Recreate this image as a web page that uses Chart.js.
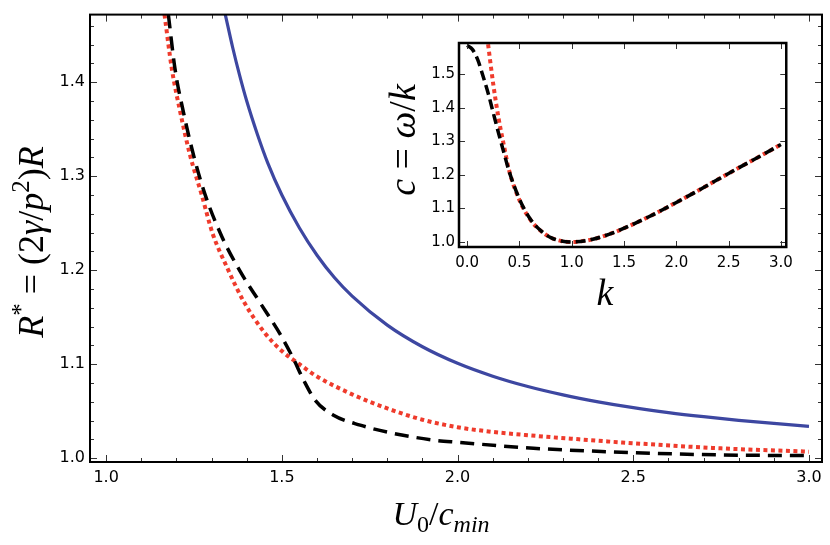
<!DOCTYPE html>
<html>
<head>
<meta charset="utf-8">
<script src="https://cdn.jsdelivr.net/npm/chart.js@4.4.1/dist/chart.umd.min.js"></script>
<style>
  html, body { margin: 0; padding: 0; background: #fff; }
  #wrap { position: relative; width: 830px; height: 545px; }
  #main { position: absolute; left: 0; top: 0; }
  #inset { position: absolute; left: 380px; top: 30px; }
</style>
</head>
<body>
<div id="wrap">
  <canvas id="main" width="830" height="545" style="width:830px;height:545px"></canvas>
  <canvas id="inset" width="420" height="290" style="width:420px;height:290px"></canvas>
</div>
<script>
// main panel: R* against U0/cmin
const blueX = [1.339, 1.36, 1.38, 1.40, 1.43, 1.46, 1.5, 1.55, 1.6, 1.65, 1.7, 1.8, 1.9, 2.0, 2.1, 2.2, 2.3, 2.4, 2.5, 2.6, 2.7, 2.8, 2.9, 3.0]
const blueY = [1.472, 1.437, 1.407, 1.380, 1.345, 1.314, 1.280, 1.245, 1.216, 1.192, 1.1725, 1.1416, 1.1186, 1.101, 1.0873, 1.0763, 1.0674, 1.060, 1.0538, 1.0486, 1.0442, 1.0403, 1.037, 1.034]

const redX = [1.166, 1.187, 1.211, 1.239, 1.272, 1.303, 1.344, 1.391, 1.45, 1.5, 1.55, 1.6, 1.7, 1.8, 1.9, 2.0, 2.1, 2.2, 2.35, 2.5, 2.75, 3.0]
const redY = [1.472, 1.414, 1.368, 1.322, 1.280, 1.239, 1.203, 1.167, 1.134, 1.114, 1.100, 1.087, 1.068, 1.053, 1.041, 1.033, 1.028, 1.0245, 1.020, 1.016, 1.0105, 1.007]

const blackX = [1.177, 1.196, 1.220, 1.249, 1.282, 1.329, 1.381, 1.438, 1.495, 1.533, 1.562, 1.595, 1.647, 1.723, 1.818, 1.932, 2.0, 2.216, 2.5, 2.75, 3.0]
const blackY = [1.472, 1.414, 1.368, 1.322, 1.280, 1.236, 1.199, 1.1655, 1.132, 1.1057, 1.083, 1.0616, 1.0458, 1.0352, 1.0264, 1.0193, 1.017, 1.0106, 1.006, 1.0035, 1.0028]

const mainXTicks = [1.0, 1.5, 2.0, 2.5, 3.0]
const mainYTicks = [1.0, 1.1, 1.2, 1.3, 1.4]

// inset: c = omega/k against k
const insetRedK = [0.2, 0.25, 0.3, 0.35, 0.4, 0.5, 0.6, 0.7, 0.8, 0.9, 1.0, 1.2, 1.4, 1.6, 1.8, 2.0, 2.2, 2.4, 2.6, 2.8, 3.0]
const insetRedC = [1.59, 1.47, 1.37, 1.29, 1.215, 1.125, 1.068, 1.034, 1.013, 1.003, 1.0, 1.008, 1.028, 1.055, 1.085, 1.118, 1.152, 1.187, 1.222, 1.256, 1.291]

const insetBlackK = [0.0, 0.05, 0.1, 0.15, 0.2, 0.25, 0.3, 0.35, 0.4, 0.5, 0.6, 0.7, 0.8, 0.9, 1.0, 1.2, 1.4, 1.6, 1.8, 2.0, 2.2, 2.4, 2.6, 2.8, 3.0]
const insetBlackC = [1.587, 1.575, 1.545, 1.497, 1.445, 1.385, 1.325, 1.268, 1.212, 1.128, 1.070, 1.035, 1.013, 1.003, 1.0, 1.008, 1.028, 1.055, 1.085, 1.118, 1.152, 1.187, 1.222, 1.256, 1.291]

const insetXTicks = [0.0, 0.5, 1.0, 1.5, 2.0, 2.5, 3.0]
const insetYTicks = [1.0, 1.1, 1.2, 1.3, 1.4, 1.5]

const BLUE = '#3d47a1'
const RED = '#ef3b2c'
const BLACK = '#000000'
const TICK_FONT = "'DejaVu Sans', sans-serif"
const MATH_FONT = "'Liberation Serif', 'DejaVu Serif', serif"

function pts(xs, ys) {
  return xs.map((x, i) => ({ x: x, y: ys[i] }))
}

function line(data, color, width, dash) {
  return {
    data: data,
    showLine: true,
    borderColor: color,
    borderWidth: width,
    borderDash: dash,
    borderCapStyle: 'butt',
    pointRadius: 0,
    cubicInterpolationMode: 'monotone',
    clip: 0
  }
}

// frame on four sides plus inward ticks, matplotlib style
function boxTicks(opt) {
  return {
    id: 'boxTicks',
    afterDatasetsDraw(chart) {
      const ctx = chart.ctx
      const a = chart.chartArea
      const sx = chart.scales.x, sy = chart.scales.y
      ctx.save()
      ctx.strokeStyle = '#333'
      ctx.lineWidth = 1
      ctx.beginPath()
      const markX = (v, len) => {
        const p = Math.round(sx.getPixelForValue(v)) + 0.5
        if (p < a.left + 1 || p > a.right - 1) return
        ctx.moveTo(p, a.bottom); ctx.lineTo(p, a.bottom - len)
        ctx.moveTo(p, a.top); ctx.lineTo(p, a.top + len)
      }
      const markY = (v, len) => {
        const p = Math.round(sy.getPixelForValue(v)) + 0.5
        if (p < a.top + 1 || p > a.bottom - 1) return
        ctx.moveTo(a.left, p); ctx.lineTo(a.left + len, p)
        ctx.moveTo(a.right, p); ctx.lineTo(a.right - len, p)
      }
      sx.ticks.forEach(t => markX(t.value, opt.major))
      sy.ticks.forEach(t => markY(t.value, opt.major))
      if (opt.minorX) {
        for (let i = Math.ceil(sx.min / opt.minorX - 1e-9); i * opt.minorX <= sx.max; i++) markX(i * opt.minorX, opt.minor)
      }
      if (opt.minorY) {
        for (let i = Math.ceil(sy.min / opt.minorY - 1e-9); i * opt.minorY <= sy.max; i++) markY(i * opt.minorY, opt.minor)
      }
      ctx.stroke()
      ctx.strokeStyle = '#000'
      ctx.lineWidth = opt.frame
      ctx.strokeRect(a.left, a.top, a.right - a.left, a.bottom - a.top)
      ctx.restore()
    }
  }
}

// math-like axis titles: [text, style], style i = italic, r = upright, sup/sub = small italic, rsup = small upright
function drawMath(ctx, parts, x, y, size, rotate) {
  const fontOf = s => {
    const small = (s === 'sup' || s === 'sub' || s === 'rsup' || s === 'rsub')
    const italic = (s === 'i' || s === 'sup' || s === 'sub')
    return (italic ? 'italic ' : '') + Math.round(small ? size * 0.7 : size) + 'px ' + MATH_FONT
  }
  ctx.save()
  ctx.translate(x, y)
  if (rotate) ctx.rotate(-Math.PI / 2)
  ctx.fillStyle = '#000'
  ctx.textBaseline = 'alphabetic'
  ctx.textAlign = 'left'
  let w = 0
  parts.forEach(p => { ctx.font = fontOf(p[1]); w += ctx.measureText(p[0]).width })
  let cx = -w / 2
  parts.forEach(p => {
    ctx.font = fontOf(p[1])
    let dy = 0
    if (p[1] === 'sup' || p[1] === 'rsup') dy = -size * 0.38
    if (p[1] === 'sub' || p[1] === 'rsub') dy = size * 0.2
    ctx.fillText(p[0], cx, dy)
    cx += ctx.measureText(p[0]).width
  })
  ctx.restore()
}

function titles(list) {
  return {
    id: 'mathTitles',
    afterDraw(chart) {
      list.forEach(t => drawMath(chart.ctx, t.parts, t.x, t.y, t.size, t.rotate))
    }
  }
}

function axis(min, max, tickVals, font, pad, fit) {
  return {
    type: 'linear',
    min: min,
    max: max,
    afterBuildTicks: s => { s.ticks = tickVals.map(v => ({ value: v })) },
    afterFit: fit,
    grid: { display: false, drawTicks: false },
    border: { display: false },
    ticks: {
      color: '#000',
      font: font,
      padding: pad,
      autoSkip: false,
      maxRotation: 0,
      callback: v => v.toFixed(1)
    }
  }
}

Chart.defaults.animation = false

const mainChart = new Chart(document.getElementById('main'), {
  type: 'scatter',
  data: {
    datasets: [
      line(pts(blueX, blueY), BLUE, 3.2, []),
      line(pts(blackX, blackY), BLACK, 3.5, [14, 8]),
      line(pts(redX, redY), RED, 4, [4, 3.5])
    ]
  },
  options: {
    responsive: false,
    devicePixelRatio: 1,
    layout: { padding: { top: 11, right: 8, left: 0, bottom: 0 } },
    plugins: { legend: { display: false }, tooltip: { enabled: false } },
    scales: {
      x: axis(0.954, 3.037, mainXTicks, { family: TICK_FONT, size: 16 }, 6, s => { s.height = 83 }),
      y: axis(0.996, 1.472, mainYTicks, { family: TICK_FONT, size: 16 }, 5, s => { s.width = 90 })
    }
  },
  plugins: [
    boxTicks({ major: 7, minor: 4, minorX: 0.1, minorY: 0.02, frame: 2 }),
    titles([
      { parts: [['R', 'i'], ['*', 'rsup'], [' = ', 'r'], ['(2', 'r'], ['γ', 'i'], ['/', 'r'], ['p', 'i'], ['2', 'rsup'], [')', 'r'], ['R', 'i']], x: 43, y: 242, size: 36, rotate: true },
      { parts: [['U', 'i'], ['0', 'rsub'], ['/', 'r'], ['c', 'i'], ['min', 'sub']], x: 441, y: 525, size: 34, rotate: false }
    ])
  ]
})

const insetChart = new Chart(document.getElementById('inset'), {
  type: 'scatter',
  data: {
    datasets: [
      line(pts(insetBlackK, insetBlackC), BLACK, 3.5, [10, 5]),
      line(pts(insetRedK, insetRedC), RED, 4, [4, 3.5])
    ]
  },
  options: {
    responsive: false,
    devicePixelRatio: 1,
    layout: { padding: { top: 11, right: 9, left: 0, bottom: 0 } },
    plugins: { legend: { display: false }, tooltip: { enabled: false } },
    scales: {
      x: axis(-0.078, 3.051, insetXTicks, { family: TICK_FONT, size: 15 }, 7, s => { s.height = 73 }),
      y: axis(0.985, 1.594, insetYTicks, { family: TICK_FONT, size: 15 }, 4, s => { s.width = 79 })
    }
  },
  plugins: [
    boxTicks({ major: 6, minor: 0, frame: 2.5 }),
    titles([
      { parts: [['c', 'i'], [' = ', 'r'], ['ω', 'i'], ['/', 'r'], ['k', 'i']], x: 35, y: 110, size: 38, rotate: true },
      { parts: [['k', 'i']], x: 225, y: 275, size: 38, rotate: false }
    ])
  ]
})
</script>
</body>
</html>
